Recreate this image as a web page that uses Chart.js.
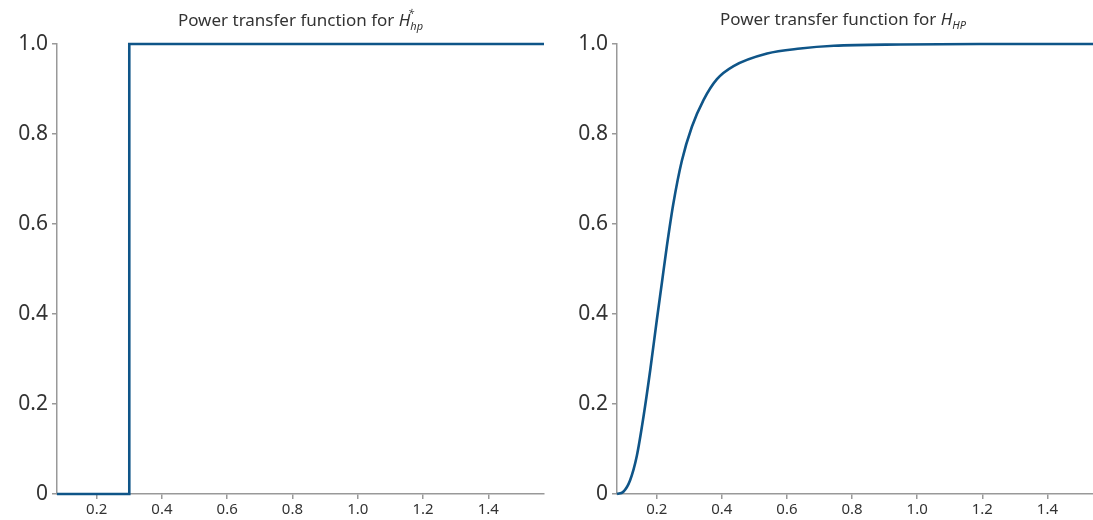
<!DOCTYPE html>
<html>
<head>
<meta charset="utf-8">
<script src="https://cdn.jsdelivr.net/npm/chart.js@4/dist/chart.umd.min.js"></script>
<style>
  body { margin: 0; background: #fff; width: 1093px; height: 520px; overflow: hidden; position: relative; font-family: "Noto Sans", sans-serif; }
  .box { position: absolute; top: 0; height: 520px; }
  .title { position: absolute; top: 7px; font-size: 17px; color: #333; text-align: center; white-space: nowrap; }
  .title sub, .title sup { font-size: 11px; font-style: italic; }
</style>
</head>
<body>
<div class="box" style="left:0;width:560px"><canvas id="leftChart"></canvas></div>
<div class="box" style="left:560px;width:533px"><canvas id="rightChart"></canvas></div>
<div class="title" style="left:57px;width:487px">Power transfer function for <i>H</i><sub>hp</sub><sup style="margin-left:-15px;position:relative;top:-2px">*</sup><span style="display:inline-block;width:9px"></span></div>
<div class="title" style="left:617px;width:476px;margin-left:-12px">Power transfer function for <i>H</i><sub>HP</sub></div>
<script>
// DATA
const leftX = [0.0785, 0.3, 0.3, 1.5708];
const leftY = [0, 0, 1, 1];
const rightX = [0.078, 0.0975, 0.118, 0.139, 0.159, 0.18, 0.2, 0.216, 0.231, 0.251, 0.277, 0.308, 0.344, 0.385, 0.436, 0.539, 0.641, 0.744, 0.949, 1.2, 1.54];
const rightY = [0, 0.005, 0.03, 0.085, 0.17, 0.275, 0.385, 0.47, 0.55, 0.645, 0.74, 0.816, 0.876, 0.922, 0.951, 0.979, 0.99, 0.996, 0.999, 1.0, 1.0];
const xTicks = [0.2, 0.4, 0.6, 0.8, 1.0, 1.2, 1.4];
const yTicks = [0, 0.2, 0.4, 0.6, 0.8, 1.0];

const lineColor = "#0f5588";
const axisColor = "#999";

function makeChart(canvas, xs, ys, xMin, xMax, padRight, smooth) {
  return new Chart(canvas, {
    type: "scatter",
    data: {
      datasets: [{
        data: xs.map((x, i) => ({ x: x, y: ys[i] })),
        showLine: true,
        clip: false,
        borderColor: lineColor,
        borderWidth: 2.6,
        pointRadius: 0,
        cubicInterpolationMode: smooth ? "monotone" : "default",
        tension: 0,
      }],
    },
    options: {
      responsive: false,
      animation: false,
      layout: { padding: { top: 44, right: padRight, left: 0, bottom: 0 } },
      plugins: { legend: { display: false }, tooltip: { enabled: false } },
      scales: {
        x: {
          type: "linear",
          min: xMin,
          max: xMax,
          afterBuildTicks: (scale) => { scale.ticks = xTicks.map((v) => ({ value: v })); },
          afterFit: (scale) => { scale.height = 26; },
          border: { color: axisColor, width: 1.5 },
          grid: { drawOnChartArea: false, color: axisColor, tickLength: 5, lineWidth: 1.5 },
          ticks: { color: "#333", font: { family: "Noto Sans", size: 15 }, padding: 2, maxRotation: 0,
            callback: (v) => v.toFixed(1) },
        },
        y: {
          min: 0,
          max: 1,
          afterBuildTicks: (scale) => { scale.ticks = yTicks.map((v) => ({ value: v })); },
          afterFit: (scale) => { scale.width = 57; },
          border: { color: axisColor, width: 1.5 },
          grid: { drawOnChartArea: false, color: axisColor, tickLength: 5, lineWidth: 1.5 },
          ticks: { color: "#333", font: { family: "Noto Sans", size: 21 }, padding: 4,
            callback: (v) => (v === 0 ? "0" : v.toFixed(1)) },
        },
      },
    },
  });
}

const lc = document.getElementById("leftChart");
lc.width = 560; lc.height = 520;
const rc = document.getElementById("rightChart");
rc.width = 533; rc.height = 520;

makeChart(lc, leftX, leftY, 0.0785, 1.5708, 16, false);
makeChart(rc, rightX, rightY, 0.078, 1.54, 0, true);
</script>
</body>
</html>
